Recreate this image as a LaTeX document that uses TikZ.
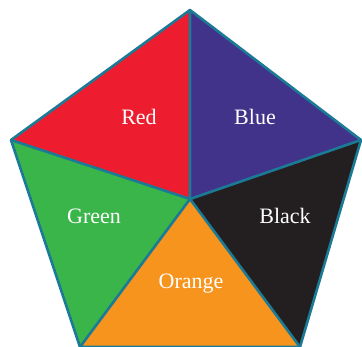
\documentclass[tikz,border=0pt]{standalone}
\usepackage{fontspec}
\setmainfont{Liberation Serif}
\definecolor{cRed}{HTML}{ED1C2E}
\definecolor{cBlue}{HTML}{41328A}
\definecolor{cBlack}{HTML}{231F20}
\definecolor{cOrange}{HTML}{F7941D}
\definecolor{cGreen}{HTML}{39B54A}
\definecolor{cEdge}{HTML}{1B7A95}
\tikzset{
  sector/.style={draw=cEdge, line width=2.6pt, line join=round},
  lab/.style={text=white, anchor=base, inner sep=0pt, font=\fontsize{22}{26}\selectfont}
}
\begin{document}
\begin{tikzpicture}[x=1pt,y=-1pt]
\useasboundingbox (0,0) rectangle (362,347);
\clip (0,0) rectangle (362,347);
\coordinate (T) at (190,10);
\coordinate (R) at (361,140);
\coordinate (BR) at (300,347);
\coordinate (BL) at (80,347);
\coordinate (L) at (11,140);
\coordinate (C) at (190,199);
\fill[cRed] (C) -- (L) -- (T) -- cycle;
\fill[cBlue] (C) -- (T) -- (R) -- cycle;
\fill[cBlack] (C) -- (R) -- (BR) -- cycle;
\fill[cOrange] (C) -- (BR) -- (BL) -- cycle;
\fill[cGreen] (C) -- (BL) -- (L) -- cycle;
\draw[sector] (T) -- (R) -- (BR) -- (BL) -- (L) -- cycle;
\draw[sector] (C) -- (T) (C) -- (R) (C) -- (BR) (C) -- (BL) (C) -- (L);
\node[lab] (nRed) at (139,125) {Red};
\node[lab] (nBlue) at (255,125) {Blue};
\node[lab] (nGreen) at (94,224) {Green};
\node[lab] (nBlack) at (285,224) {Black};
\node[lab] (nOrange) at (191,289) {Orange};
\end{tikzpicture}
\end{document}
